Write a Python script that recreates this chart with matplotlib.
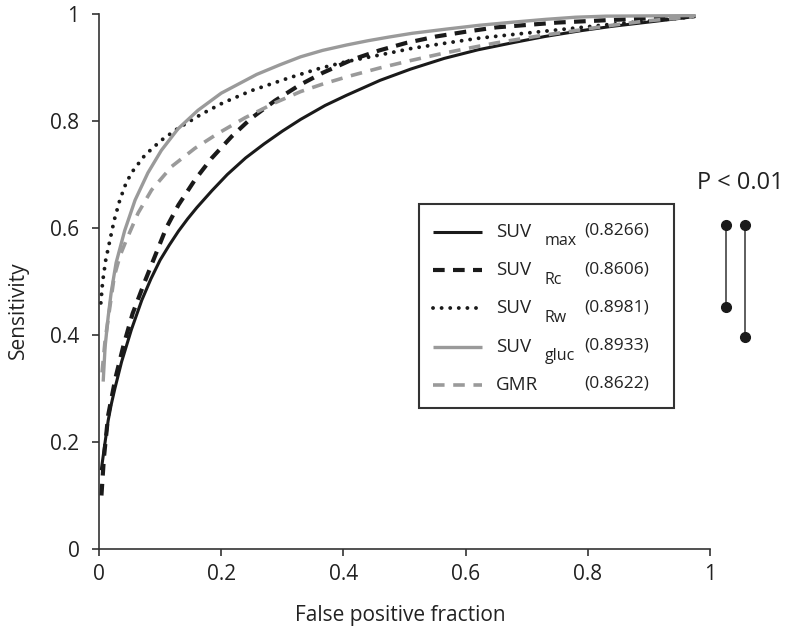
import matplotlib
matplotlib.use("Agg")
import matplotlib.pyplot as plt
from matplotlib.patches import Rectangle

plt.rcParams['font.family'] = ['Open Sans', 'DejaVu Sans']

# ROC curves (false positive fraction, sensitivity)
suv_max_x = [0.004, 0.01, 0.015, 0.02, 0.026, 0.037, 0.053, 0.07, 0.085, 0.10, 0.115, 0.13, 0.145, 0.16, 0.185,
             0.21, 0.24, 0.27, 0.30, 0.33, 0.37, 0.405, 0.46, 0.51, 0.565, 0.62, 0.68, 0.73, 0.79, 0.84, 0.90, 0.974]
suv_max_y = [0.15, 0.20, 0.24, 0.27, 0.30, 0.35, 0.41, 0.465, 0.505, 0.54, 0.568, 0.594, 0.617, 0.638, 0.67,
             0.70, 0.731, 0.757, 0.781, 0.803, 0.829, 0.848, 0.876, 0.897, 0.917, 0.933, 0.947, 0.958, 0.969, 0.977, 0.985, 0.995]

suv_rc_x = [0.004, 0.008, 0.015, 0.027, 0.04, 0.055, 0.075, 0.089, 0.11, 0.13, 0.157, 0.184, 0.217, 0.249,
            0.288, 0.328, 0.366, 0.415, 0.459, 0.503, 0.552, 0.601, 0.65, 0.75, 0.86, 0.974]
suv_rc_y = [0.10, 0.17, 0.25, 0.32, 0.38, 0.44, 0.50, 0.54, 0.60, 0.643, 0.69, 0.73, 0.771, 0.805,
            0.838, 0.867, 0.89, 0.915, 0.932, 0.946, 0.958, 0.967, 0.975, 0.984, 0.99, 0.995]

suv_rw_x = [0.003, 0.006, 0.011, 0.018, 0.025, 0.034, 0.043, 0.053, 0.075, 0.102, 0.129, 0.168, 0.203, 0.25,
            0.312, 0.36, 0.405, 0.475, 0.513, 0.57, 0.623, 0.68, 0.731, 0.79, 0.84, 0.90, 0.974]
suv_rw_y = [0.46, 0.50, 0.54, 0.578, 0.615, 0.652, 0.68, 0.703, 0.736, 0.764, 0.786, 0.813, 0.834, 0.857,
            0.881, 0.898, 0.911, 0.927, 0.936, 0.946, 0.955, 0.962, 0.968, 0.975, 0.981, 0.987, 0.995]

suv_gluc_x = [0.007, 0.01, 0.015, 0.02, 0.028, 0.042, 0.059, 0.08, 0.102, 0.129, 0.162, 0.20, 0.258, 0.296,
              0.33, 0.366, 0.405, 0.44, 0.475, 0.513, 0.57, 0.623, 0.68, 0.731, 0.78, 0.83, 0.974]
suv_gluc_y = [0.316, 0.378, 0.434, 0.48, 0.535, 0.595, 0.652, 0.703, 0.745, 0.785, 0.82, 0.852, 0.887, 0.905,
              0.92, 0.932, 0.942, 0.95, 0.957, 0.964, 0.972, 0.979, 0.985, 0.99, 0.994, 0.996, 0.997]

gmr_x = [0.005, 0.01, 0.015, 0.025, 0.035, 0.045, 0.064, 0.086, 0.119, 0.157, 0.195, 0.239, 0.288, 0.33,
         0.366, 0.41, 0.459, 0.51, 0.557, 0.60, 0.65, 0.72, 0.786, 0.84, 0.895, 0.974]
gmr_y = [0.33, 0.39, 0.43, 0.51, 0.55, 0.578, 0.628, 0.671, 0.715, 0.749, 0.777, 0.806, 0.834, 0.855,
         0.869, 0.884, 0.899, 0.913, 0.925, 0.935, 0.946, 0.959, 0.970, 0.979, 0.987, 0.995]

names = ["max", "Rc", "Rw", "gluc", "GMR"]
auc = ["0.8266", "0.8606", "0.8981", "0.8933", "0.8622"]

# significance brackets (right of plot)
pair_x = [1.026, 1.058]
pair_top = [0.606, 0.606]
pair_bottom = [0.453, 0.397]

black = "#1a1a1a"
gray = "#9a9a9a"

styles = [
    dict(color=black, lw=2.2, ls="-"),
    dict(color=black, lw=3.0, dashes=(2.8, 2.0)),
    dict(color=black, lw=2.8, dashes=(0.01, 2.2), dash_capstyle="round"),
    dict(color=gray, lw=2.4, ls="-"),
    dict(color=gray, lw=2.6, dashes=(3.2, 2.4)),
]
curves = [(suv_max_x, suv_max_y), (suv_rc_x, suv_rc_y), (suv_rw_x, suv_rw_y),
          (suv_gluc_x, suv_gluc_y), (gmr_x, gmr_y)]

fig = plt.figure(figsize=(8, 6.32), dpi=100)
ax = fig.add_axes([99 / 800, 1 - 549 / 632, 611 / 800, 535 / 632])

for (xs, ys), st in zip(curves, styles):
    ax.plot(xs, ys, **st)

ax.set_xlim(0, 1)
ax.set_ylim(0, 1)
ax.set_xticks([0, 0.2, 0.4, 0.6, 0.8, 1])
ax.set_yticks([0, 0.2, 0.4, 0.6, 0.8, 1])
ax.set_xticklabels(["0", "0.2", "0.4", "0.6", "0.8", "1"])
ax.set_yticklabels(["0", "0.2", "0.4", "0.6", "0.8", "1"])
ax.tick_params(direction="out", length=5, width=1.2, color="#333333",
               labelsize=15, labelcolor="#222222")
ax.tick_params(axis="y", pad=9)
ax.tick_params(axis="x", pad=6)
for s in ["top", "right"]:
    ax.spines[s].set_visible(False)
for s in ["left", "bottom"]:
    ax.spines[s].set_linewidth(1.2)
    ax.spines[s].set_color("#333333")

ax.set_xlabel("False positive fraction", fontsize=15, color="#222222")
ax.set_ylabel("Sensitivity", fontsize=15, color="#222222")
ax.xaxis.set_label_coords(0.493, -0.104)
ax.yaxis.set_label_coords(-0.115, 0.447)

# legend box drawn by hand to keep the subscript / value layout
ax.add_patch(Rectangle((0.523, 0.264), 0.418, 0.381, fill=False, lw=1.5, ec="#333333"))
row_y = [0.593, 0.521, 0.450, 0.378, 0.307]
for i, (st, name, val) in enumerate(zip(styles, names, auc)):
    y = row_y[i]
    ax.plot([0.546, 0.627], [y, y], solid_capstyle="butt", **st)
    if name == "GMR":
        ax.text(0.650, y - 0.009, "GMR", fontsize=13.5, va="baseline", ha="left", color="#222222")
    else:
        ax.text(0.650, y - 0.009, "SUV", fontsize=13.5, va="baseline", ha="left", color="#222222")
        ax.text(0.729, y - 0.025, name, fontsize=11.5, va="baseline", ha="left", color="#222222")
    ax.text(0.794, y - 0.006, "(" + val + ")", fontsize=12.5, va="baseline", ha="left", color="#222222")

for x, yt, yb in zip(pair_x, pair_top, pair_bottom):
    ax.plot([x, x], [yt, yb], color="#333333", lw=1.1, marker="o", ms=7,
            mfc="#1a1a1a", mec="#1a1a1a", clip_on=False)
ax.text(1.05, 0.684, "P < 0.01", fontsize=17, ha="center", va="center", color="#222222",
        clip_on=False)

fig.savefig("out.png", dpi=100)
